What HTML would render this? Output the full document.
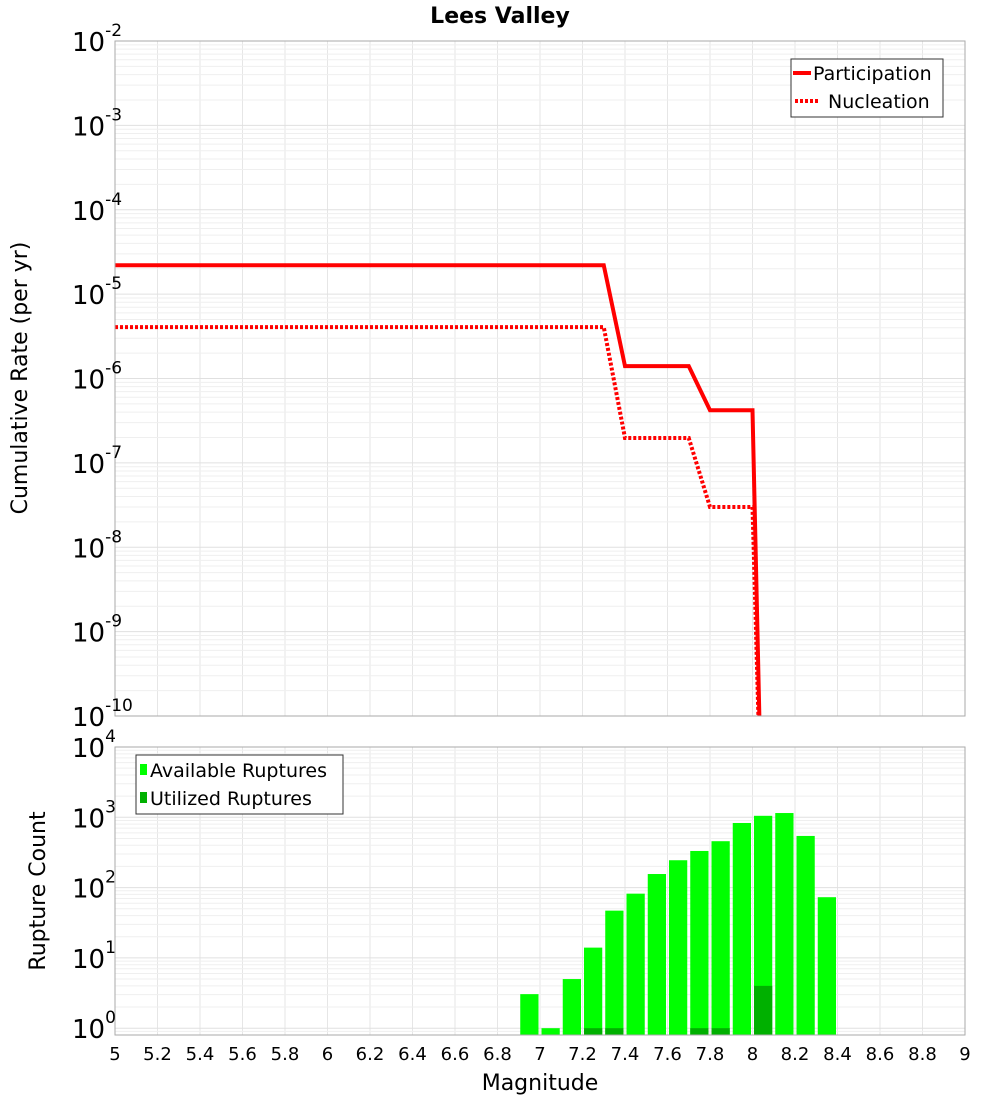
<!DOCTYPE html>
<html><head><meta charset="utf-8"><style>
body{margin:0;background:#fff;}
svg text{font-family:"DejaVu Sans","Liberation Sans",sans-serif;}
</style></head><body>
<svg id="c" width="1000" height="1100" xmlns="http://www.w3.org/2000/svg">
<defs>
<clipPath id="clipTop"><rect x="115" y="41" width="850" height="675"/></clipPath>
<clipPath id="clipBot"><rect x="115" y="747" width="850" height="288"/></clipPath>
</defs>
<text x="500" y="23" text-anchor="middle" font-size="22" font-weight="bold">Lees Valley</text>
<g id="gridTop"></g>
<g id="gridBot"></g>
<g id="bars" clip-path="url(#clipBot)"></g>
<g id="lines" clip-path="url(#clipTop)"></g>
<rect x="115" y="41" width="850" height="675" fill="none" stroke="#aaa"/>
<rect x="115" y="747" width="850" height="288" fill="none" stroke="#aaa"/>
<g id="ticks"></g>
<text transform="translate(27,378) rotate(-90)" text-anchor="middle" font-size="22">Cumulative Rate (per yr)</text>
<text transform="translate(45,891) rotate(-90)" text-anchor="middle" font-size="22">Rupture Count</text>
<text x="540" y="1090" text-anchor="middle" font-size="22">Magnitude</text>
<g>
<rect x="791" y="59" width="152" height="58" fill="#fff" stroke="#333"/>
<line x1="793" y1="73" x2="811" y2="73" stroke="#f00" stroke-width="4"/>
<text x="813" y="80" font-size="19">Participation</text>
<line x1="795" y1="101" x2="820" y2="101" stroke="#f00" stroke-width="4" stroke-dasharray="3,2"/>
<text x="828" y="108" font-size="19">Nucleation</text>
</g>
<g>
<rect x="136" y="755" width="207" height="59" fill="#fff" stroke="#333"/>
<rect x="140" y="764" width="7" height="11" fill="#00ff00"/>
<text x="150" y="777" font-size="19">Available Ruptures</text>
<rect x="140" y="792" width="7" height="11" fill="#00b000"/>
<text x="150" y="805" font-size="19">Utilized Ruptures</text>
</g>
</svg>
<script>
const partMags=[5.0,7.3,7.4,7.7,7.8,8.0,8.05];
const partRates=[2.2e-5,2.2e-5,1.4e-6,1.4e-6,4.2e-7,4.2e-7,1e-12];
const nuclMags=[5.0,7.3,7.4,7.7,7.8,8.0,8.05];
const nuclRates=[4.07e-6,4.07e-6,1.97e-7,1.97e-7,3.0e-8,3.0e-8,1e-12];
const binMags=[6.95,7.05,7.15,7.25,7.35,7.45,7.55,7.65,7.75,7.85,7.95,8.05,8.15,8.25,8.35];
const availCounts=[3.05,1,5,14,47,82,156,245,332,457,830,1050,1150,543,73];
const utilCounts=[0,0,0,1,1,0,0,0,1,1,0,4,0,0,0];
const xTicks=[5,5.2,5.4,5.6,5.8,6,6.2,6.4,6.6,6.8,7,7.2,7.4,7.6,7.8,8,8.2,8.4,8.6,8.8,9];
const topExps=[-2,-3,-4,-5,-6,-7,-8,-9,-10];
const botExps=[4,3,2,1,0];

const NS="http://www.w3.org/2000/svg";
const X=m=>115+(m-5)*212.5;
const YT=v=>41+(-2-Math.log10(v))*84.375;
const BMIN=Math.log10(0.8), BMAX=4;
const YB=v=>1035-(Math.log10(v)-BMIN)/(BMAX-BMIN)*288;
function el(tag,attrs,parent){const e=document.createElementNS(NS,tag);for(const k in attrs)e.setAttribute(k,attrs[k]);parent.appendChild(e);return e;}
const gT=document.getElementById('gridTop'),gB=document.getElementById('gridBot'),tk=document.getElementById('ticks');
// grids
for(let m=5;m<=9.001;m+=0.2){
 const l1=el('line',{x1:X(m),x2:X(m),y1:41,y2:716,stroke:'#e6e6e6'},gT);
 
 const l2=el('line',{x1:X(m),x2:X(m),y1:747,y2:1035,stroke:'#e6e6e6'},gB);
 
}
for(let e=-10;e<-2;e++)for(let k=1;k<10;k++){const y=YT(k*Math.pow(10,e));
 const l=el('line',{x1:115,x2:965,y1:y,y2:y,stroke:k==1?'#e0e0e0':'#efefef'},gT);
 }
for(let e=-1;e<4;e++)for(let k=1;k<10;k++){const v=k*Math.pow(10,e);if(v<0.8)continue;const y=YB(v);
 const l=el('line',{x1:115,x2:965,y1:y,y2:y,stroke:k==1?'#e0e0e0':'#efefef'},gB);
 }
// x ticks
xTicks.forEach(m=>{const t=el('text',{x:X(m),y:1060,'text-anchor':'middle','font-size':18},tk);t.textContent=String(m);
 });
function ylab(y,exp){const t=el('text',{x:72,y:y+10,'font-size':26},tk);
 const a=el('tspan',{},t);a.textContent='10';
 const b=el('tspan',{dy:-15,'font-size':17},t);b.textContent=String(exp);
 }
topExps.forEach(e=>ylab(YT(Math.pow(10,e)),e));
botExps.forEach(e=>ylab(YB(Math.pow(10,e)),e));
// bars
const bw=0.1*212.5-3;
binMags.forEach((m,i)=>{const v=availCounts[i];if(v>0){const y=YB(v);
 const r=el('rect',{x:X(m)-bw/2,y:y,width:bw,height:1035-y,fill:'#00ff00'},document.getElementById('bars'));
 }
 const u=utilCounts[i];if(u>0){const y=YB(u);
 const r=el('rect',{x:X(m)-bw/2,y:y,width:bw,height:1035-y,fill:'#00b000'},document.getElementById('bars'));
 }});
// lines
const lg=document.getElementById('lines');
const p1=el('polyline',{points:partMags.map((m,i)=>X(m)+','+YT(partRates[i])).join(' '),fill:'none',stroke:'#f00','stroke-width':4},lg);

const p2=el('polyline',{points:nuclMags.map((m,i)=>X(m)+','+YT(nuclRates[i])).join(' '),fill:'none',stroke:'#f00','stroke-width':4,'stroke-dasharray':'3,2'},lg);

</script>
</body></html>
